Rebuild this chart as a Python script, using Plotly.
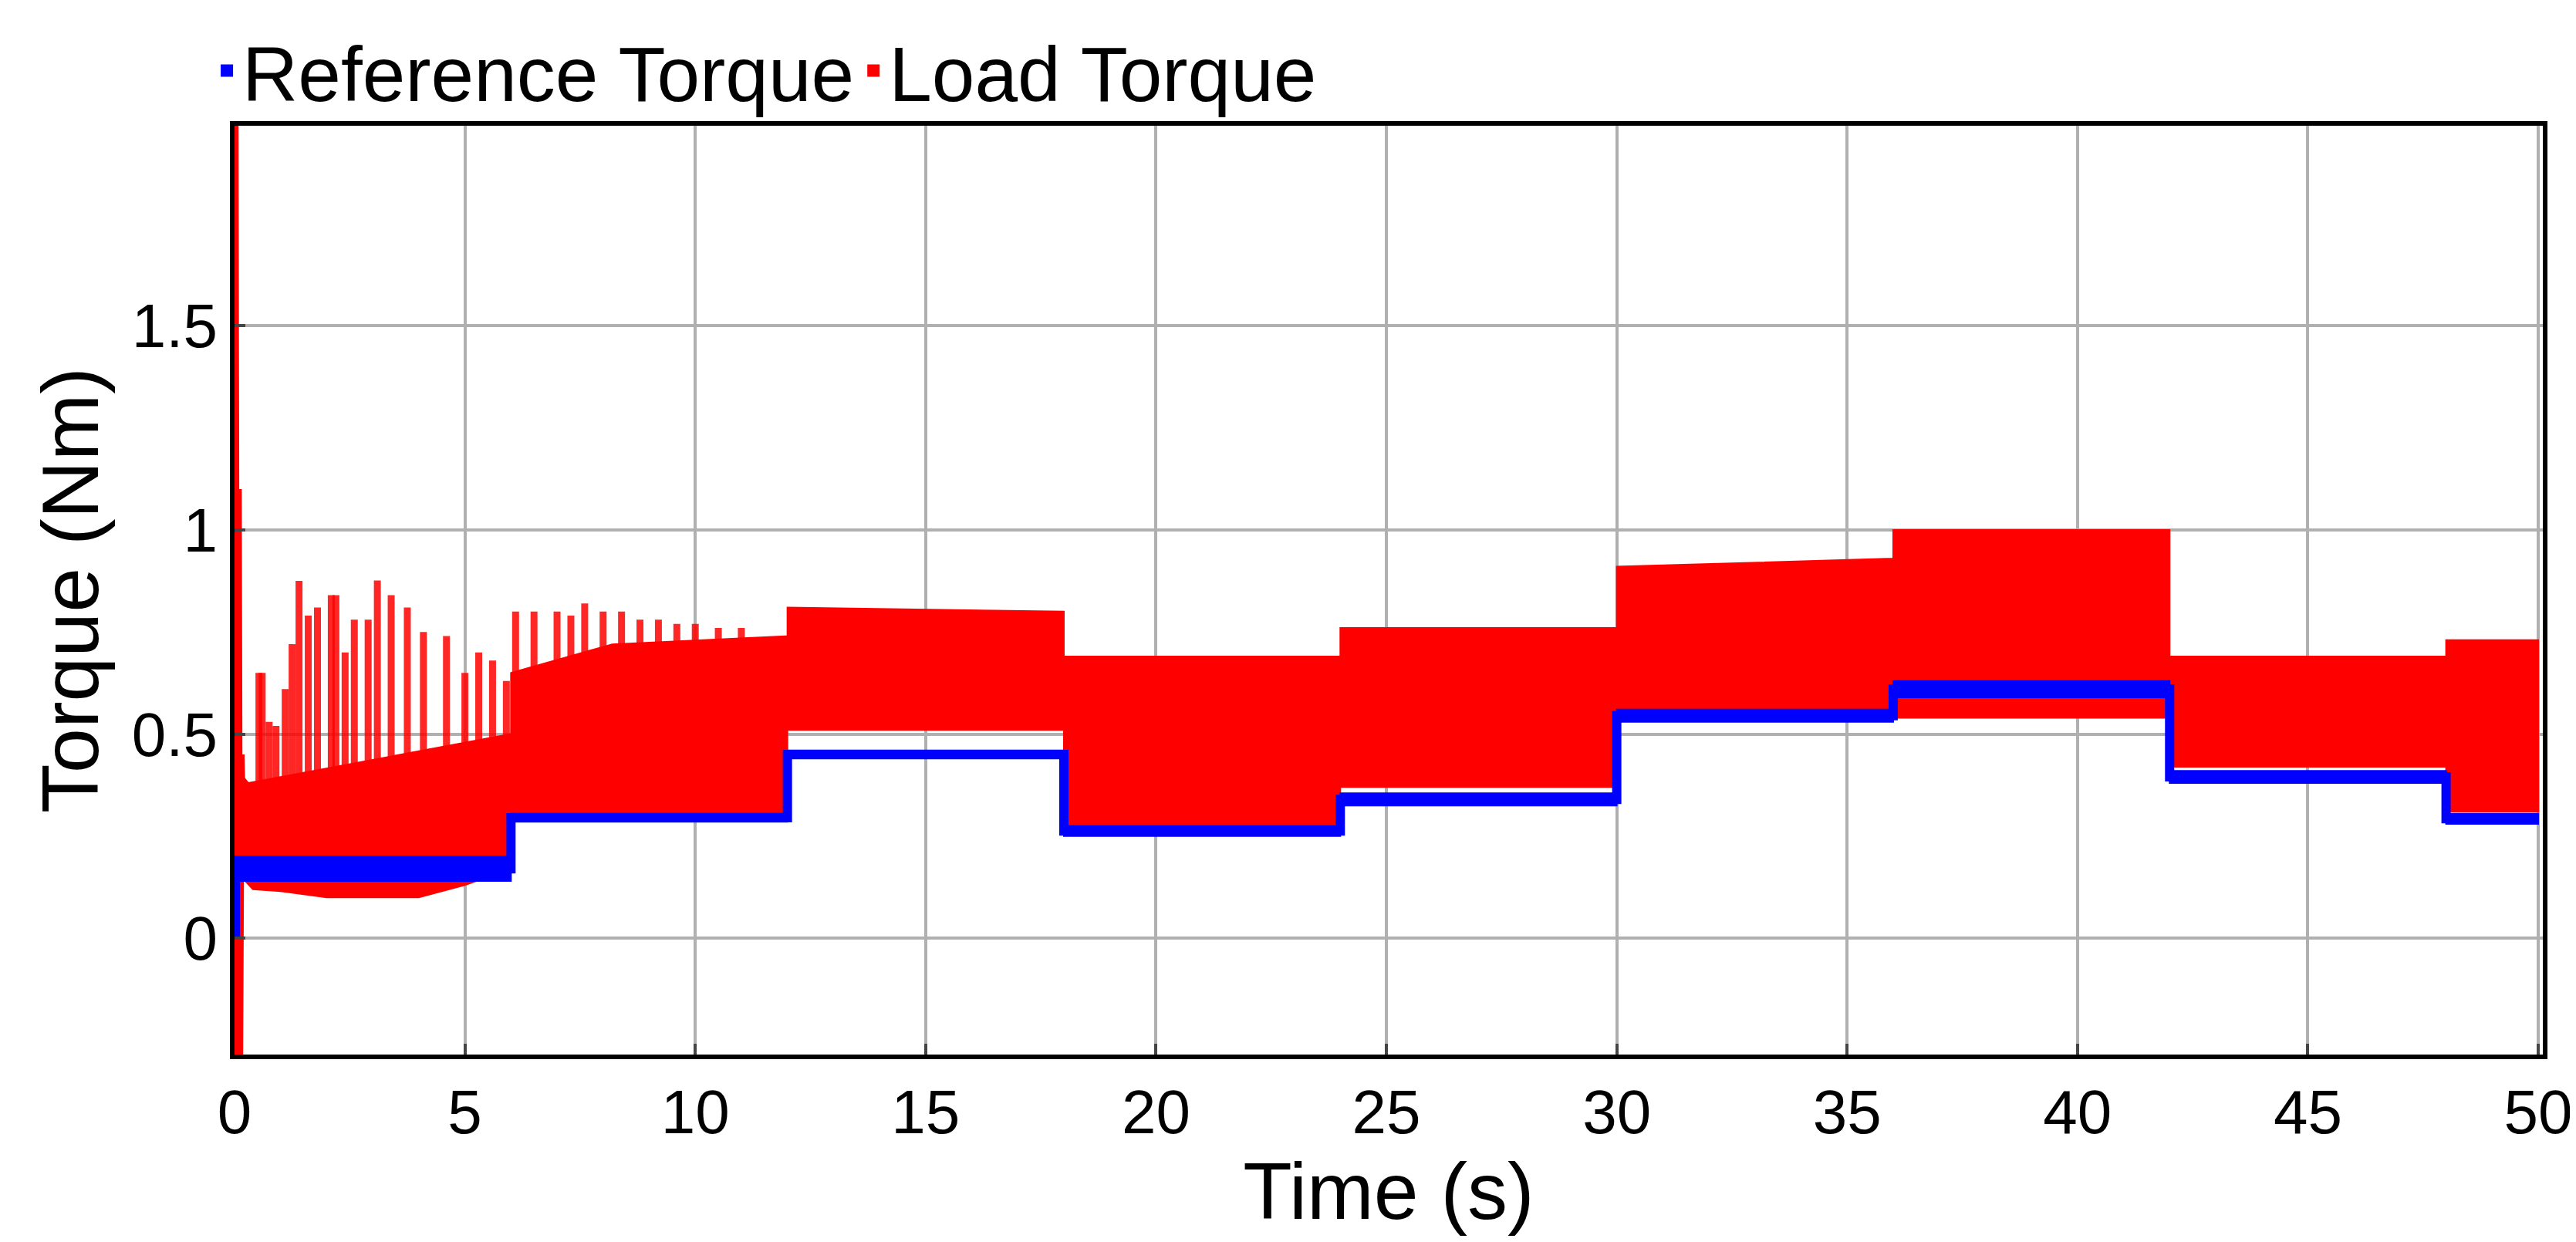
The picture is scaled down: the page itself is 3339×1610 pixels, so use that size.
import plotly.graph_objects as go

seg_t = [0, 6, 12, 18, 24, 30, 36, 42, 48, 50]
blue_lo = [0.14, 0.285, 0.44, 0.25, 0.325, 0.53, 0.59, 0.38, 0.28]
blue_hi = [0.20, 0.305, 0.46, 0.275, 0.355, 0.56, 0.63, 0.41, 0.305]

red_hi_t = [0.15, 0.3, 6.0, 6.0, 8.2, 12.0, 12.0, 18.0, 18.0, 24.0, 24.0, 30.0, 30.0, 36.0, 36.0, 42.0, 42.0, 48.0, 48.0, 50.0]
red_hi_v = [0.40, 0.38, 0.50, 0.65, 0.72, 0.74, 0.81, 0.80, 0.69, 0.69, 0.76, 0.76, 0.91, 0.93, 1.0, 1.0, 0.69, 0.69, 0.73, 0.73]
red_lo_t = [0.15, 0.4, 1.0, 2.0, 4.0, 5.0, 6.0, 6.0, 12.0, 12.0, 18.0, 18.0, 24.0, 24.0, 30.0, 30.0, 36.0, 36.0, 42.0, 42.0, 48.0, 48.0, 50.0]
red_lo_v = [0.15, 0.12, 0.115, 0.10, 0.10, 0.13, 0.17, 0.29, 0.30, 0.51, 0.51, 0.27, 0.27, 0.37, 0.37, 0.56, 0.56, 0.54, 0.54, 0.42, 0.42, 0.31, 0.31]

spike_t = [0.53, 0.6, 0.75, 0.9, 1.1, 1.25, 1.4, 1.6, 1.8, 2.1, 2.2, 2.4, 2.6, 2.9, 3.1, 3.4, 3.75, 4.1, 4.6, 5.0, 5.3, 5.6, 5.9,
           6.1, 6.5, 7.0, 7.3, 7.6, 8.0, 8.4, 8.8, 9.2, 9.6, 10.0, 10.5, 11.0]
spike_v = [0.65, 0.65, 0.53, 0.52, 0.61, 0.72, 0.875, 0.79, 0.81, 0.84, 0.84, 0.70, 0.78, 0.78, 0.876, 0.84, 0.81, 0.75, 0.74, 0.65, 0.70, 0.68, 0.63,
           0.80, 0.80, 0.80, 0.79, 0.82, 0.80, 0.80, 0.78, 0.78, 0.77, 0.77, 0.76, 0.76]

trans_t = [0.02, 0.06, 0.09, 0.12, 0.15, 0.2]
trans_v = [1.99, -0.29, 1.1, -0.29, 0.45, 0.2]

def base_at(t):
    for i in range(len(red_hi_t) - 1):
        a, b = red_hi_t[i], red_hi_t[i + 1]
        if a < b and a <= t <= b:
            return red_hi_v[i] + (red_hi_v[i + 1] - red_hi_v[i]) * (t - a) / (b - a)
    return red_hi_v[-1]

fig = go.Figure()
fig.add_trace(go.Scatter(x=red_hi_t + red_lo_t[::-1], y=red_hi_v + red_lo_v[::-1], fill='toself',
                         fillcolor='#ff0000', line=dict(color='#ff0000', width=2), mode='lines',
                         showlegend=False, hoverinfo='skip'))
sx, sy = [], []
for t, v in zip(spike_t, spike_v):
    sx += [t, t, None]
    sy += [base_at(t) - 0.15, v, None]
fig.add_trace(go.Scatter(x=sx, y=sy, mode='lines', line=dict(color='rgba(255,0,0,0.85)', width=9),
                         showlegend=False, hoverinfo='skip'))
fig.add_trace(go.Scatter(x=trans_t, y=trans_v, mode='lines', line=dict(color='#ff0000', width=8),
                         showlegend=False, hoverinfo='skip'))
ux, uy, lx, ly = [], [], [], []
for i in range(len(blue_lo)):
    ux += [seg_t[i], seg_t[i + 1]]
    uy += [blue_hi[i], blue_hi[i]]
    lx += [seg_t[i], seg_t[i + 1]]
    ly += [blue_lo[i], blue_lo[i]]
fig.add_trace(go.Scatter(x=ux + lx[::-1], y=uy + ly[::-1], fill='toself', fillcolor='#0000ff',
                         line=dict(color='#0000ff', width=2), mode='lines', showlegend=False, hoverinfo='skip'))
mid = [(a + b) / 2 for a, b in zip(blue_lo, blue_hi)]
fig.add_trace(go.Scatter(x=seg_t, y=mid + [mid[-1]], mode='lines', line=dict(color='#0000ff', width=12, shape='hv'),
                         showlegend=False, hoverinfo='skip'))
fig.add_trace(go.Scatter(x=[0.05, 0.05], y=[0.0, 0.2], mode='lines', line=dict(color='#0000ff', width=8),
                         showlegend=False, hoverinfo='skip'))
fig.add_trace(go.Scatter(x=[None], y=[None], mode='markers', name='Reference Torque',
                         marker=dict(symbol='square', color='#0000ff', size=70)))
fig.add_trace(go.Scatter(x=[None], y=[None], mode='markers', name='Load Torque',
                         marker=dict(symbol='square', color='#ff0000', size=70)))

font = 'Liberation Sans, Arial, sans-serif'
fig.update_layout(
    width=3339, height=1610, paper_bgcolor='white', plot_bgcolor='white',
    margin=dict(l=296, r=49, t=139, b=251),
    font=dict(family=font, color='black'),
    legend=dict(orientation='h', x=-0.01, y=1.0, xanchor='left', yanchor='bottom',
                font=dict(size=100), itemwidth=30, tracegroupgap=0, bgcolor='rgba(0,0,0,0)'),
    xaxis=dict(range=[0, 50.1], tickvals=[0, 5, 10, 15, 20, 25, 30, 35, 40, 45, 50],
               showgrid=True, gridcolor='#b0b0b0', gridwidth=4, zeroline=False,
               showline=True, linecolor='black', linewidth=6, mirror=True,
               ticks='inside', ticklen=14, tickwidth=4, tickfont=dict(size=80),
               title=dict(text='Time (s)', font=dict(size=104), standoff=5)),
    yaxis=dict(range=[-0.285, 1.99], tickvals=[0, 0.5, 1, 1.5], ticktext=['0', '0.5', '1', '1.5'],
               showgrid=True, gridcolor='#b0b0b0', gridwidth=4, zeroline=False,
               showline=True, linecolor='black', linewidth=6, mirror=True,
               ticks='inside', ticklen=14, tickwidth=4, tickfont=dict(size=80),
               title=dict(text='Torque (Nm)', font=dict(size=104), standoff=10)),
)
fig.write_html('out.html')
